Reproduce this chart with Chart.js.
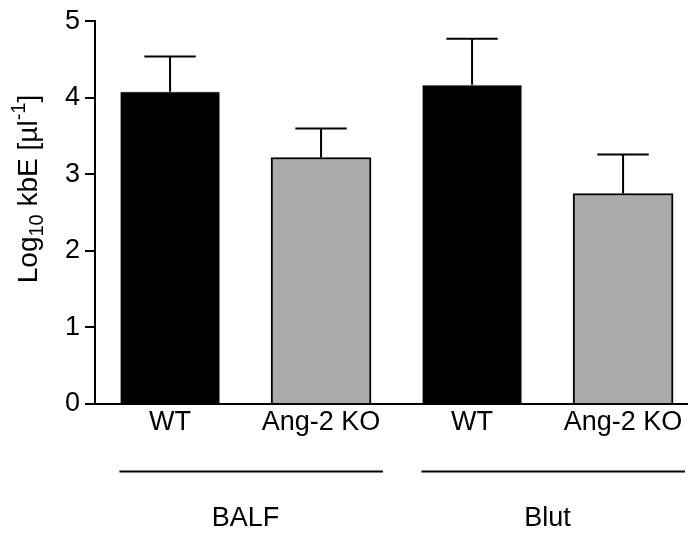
<!DOCTYPE html>
<html>
<head>
<meta charset="utf-8">
<script src="https://cdn.jsdelivr.net/npm/chart.js@4/dist/chart.umd.min.js"></script>
<style>
  html, body { margin: 0; padding: 0; background: #fff; overflow: hidden; }
  #wrap { width: 688px; height: 533px; position: relative; }
</style>
</head>
<body>
<div id="wrap"><canvas id="c"></canvas></div>
<script>
// ---- data ----
const categories = ['WT', 'Ang-2 KO', 'WT', 'Ang-2 KO'];
const meanValues = [4.08, 3.22, 4.17, 2.75];
const errorTops  = [4.54, 3.60, 4.77, 3.26];
const barColors  = ['#000000', '#aaaaaa', '#000000', '#aaaaaa'];
const groupLabels = ['BALF', 'Blut'];
const groupMembers = [[0, 1], [2, 3]];
const yTicks = [0, 1, 2, 3, 4, 5];

const FONT = "'Liberation Sans', Arial, Helvetica, sans-serif";

const errorBarPlugin = {
  id: 'errorBars',
  afterDatasetsDraw(chart) {
    const {ctx, scales: {x, y}} = chart;
    ctx.save();
    ctx.strokeStyle = '#000';
    ctx.lineWidth = 2;
    meanValues.forEach((v, i) => {
      const px = x.getPixelForValue(i);
      const y0 = y.getPixelForValue(v);
      const y1 = y.getPixelForValue(errorTops[i]);
      const half = 0.17 * (x.getPixelForValue(1) - x.getPixelForValue(0));
      ctx.beginPath();
      ctx.moveTo(px, y0);
      ctx.lineTo(px, y1);
      ctx.moveTo(px - half, y1);
      ctx.lineTo(px + half, y1);
      ctx.stroke();
    });
    ctx.restore();
  }
};

const groupPlugin = {
  id: 'groups',
  afterDraw(chart) {
    const {ctx, scales: {x, y}} = chart;
    const unit = x.getPixelForValue(1) - x.getPixelForValue(0);
    ctx.save();
    ctx.strokeStyle = '#000';
    ctx.lineWidth = 2;
    ctx.fillStyle = '#000';
    ctx.font = '27px ' + FONT;
    ctx.textAlign = 'center';
    ctx.textBaseline = 'middle';
    const lineY = x.top + 67.5;
    const textY = x.top + 115;
    groupMembers.forEach((m, g) => {
      const a = x.getPixelForValue(m[0]) - 0.335 * unit;
      const b = x.getPixelForValue(m[m.length - 1]) + 0.41 * unit;
      ctx.beginPath();
      ctx.moveTo(a, lineY);
      ctx.lineTo(b, lineY);
      ctx.stroke();
      const cx = (x.getPixelForValue(m[0]) + x.getPixelForValue(m[m.length - 1])) / 2;
      ctx.fillText(groupLabels[g], cx, textY);
    });
    ctx.restore();

    // y-axis title with subscript / superscript
    const parts = [
      {t: 'Log', s: 28, dy: 0},
      {t: '10', s: 20, dy: 8},
      {t: ' kbE [µl', s: 28, dy: 0},
      {t: '-1', s: 20, dy: -10},
      {t: ']', s: 28, dy: 0}
    ];
    ctx.save();
    let total = 0;
    parts.forEach(p => { ctx.font = p.s + 'px ' + FONT; p.w = ctx.measureText(p.t).width; total += p.w; });
    const cxT = 29, cyT = 189;
    ctx.translate(cxT, cyT);
    ctx.rotate(-Math.PI / 2);
    ctx.fillStyle = '#000';
    ctx.textBaseline = 'middle';
    ctx.textAlign = 'left';
    let pos = -total / 2;
    parts.forEach(p => {
      ctx.font = p.s + 'px ' + FONT;
      ctx.fillText(p.t, pos, p.dy);
      pos += p.w;
    });
    ctx.restore();
  }
};

new Chart(document.getElementById('c'), {
  type: 'bar',
  data: {
    datasets: [{
      data: meanValues.map((v, i) => ({x: i, y: v})),
      backgroundColor: barColors,
      borderColor: barColors.map(c => c === '#000000' ? '#d8d8d8' : '#000000'),
      borderWidth: barColors.map(c => c === '#000000' ? 1 : 2),
      borderSkipped: 'bottom',
      barThickness: 100
    }]
  },
  options: {
    responsive: true,
    maintainAspectRatio: false,
    animation: false,
    layout: { padding: { left: 0, right: 0, top: 8, bottom: 0 } },
    plugins: { legend: { display: false }, tooltip: { enabled: false } },
    scales: {
      x: {
        type: 'linear',
        offset: false,
        min: -0.497,
        max: 3.43,
        grid: { display: false, drawTicks: false },
        border: { display: true, color: '#000', width: 2 },
        afterBuildTicks(scale) { scale.ticks = categories.map((c, i) => ({value: i})); },
        afterFit(scale) { scale.height = 129; },
        ticks: {
          autoSkip: false,
          maxRotation: 0,
          padding: 2,
          color: '#000',
          font: { family: FONT, size: 27 },
          callback: (v) => categories[v] !== undefined ? categories[v] : ''
        }
      },
      y: {
        min: 0,
        max: 5,
        afterBuildTicks(scale) { scale.ticks = yTicks.map(v => ({value: v})); },
        afterFit(scale) { scale.width = 95; },
        grid: { display: true, drawOnChartArea: false, drawTicks: true, tickLength: 10, color: '#000', lineWidth: 2 },
        border: { display: true, color: '#000', width: 2 },
        ticks: {
          padding: 5,
          color: '#000',
          font: { family: FONT, size: 27 }
        }
      }
    }
  },
  plugins: [errorBarPlugin, groupPlugin]
});
</script>
</body>
</html>
